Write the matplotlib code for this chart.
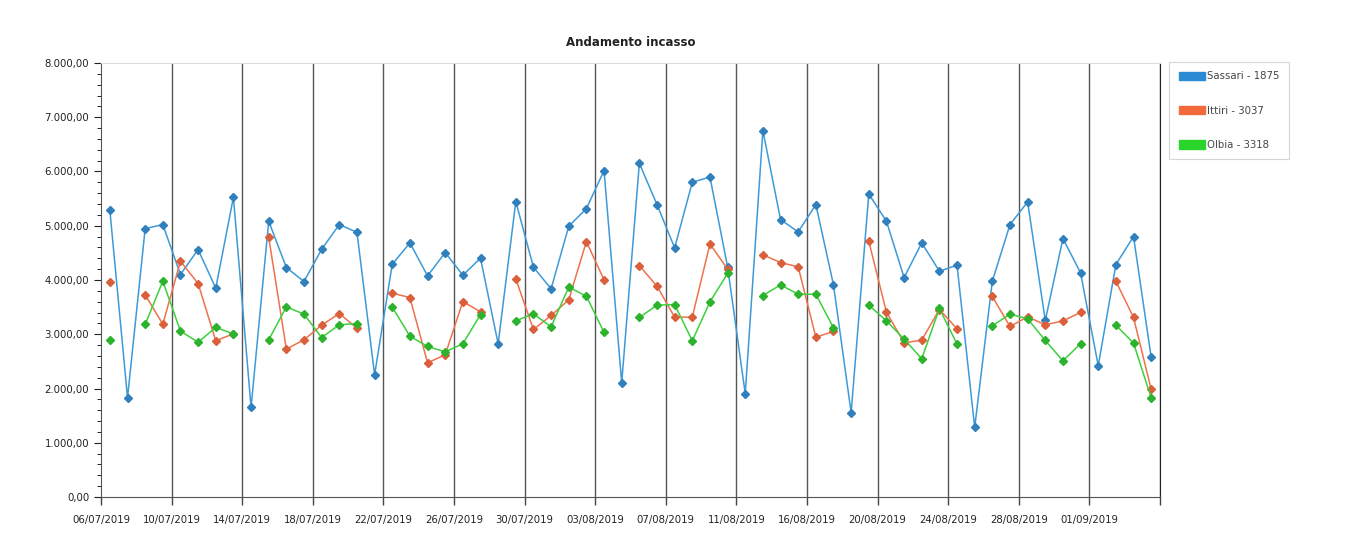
import numpy as np
import pandas as pd
import matplotlib
matplotlib.use("Agg")
import matplotlib.pyplot as plt
from matplotlib.patches import Patch
from matplotlib.ticker import FuncFormatter, MultipleLocator

# giorni lavorati (manca il 15/08)
days = pd.date_range("2019-07-06", "2019-09-04")
days = days[days != pd.Timestamp("2019-08-15")]

sassari = [5285, 1829, 4948, 5021, 4101, 4561, 3849, 5525, 1651, 5083,
           4230, 3972, 4567, 5021, 4880, 2253, 4291, 4684, 4076, 4506,
           4088, 4402, 2824, 5445, 4236, 3837, 4991, 5316, 6016, 2106,
           6151, 5390, 4592, 5801, 5899, 4242, 1903, 6753, 5114, 4886,
           5390, 3910, 1553, 5586, 5083, 4045, 4684, 4162, 4273, 1283,
           3978, 5021, 5439, 3254, 4764, 4131, 2419, 4285, 4801, 2572]
ittiri = [3960, None, 3726, 3186, 4346, 3935, 2879, 3008, None, 4788,
          2726, 2898, 3168, 3382, 3112, None, 3757, 3677, 2474, 2621,
          3603, 3413, None, 4021, 3088, 3346, 3634, 4708, 4002, None,
          4266, 3886, 3315, 3315, 4665, 4200, None, 4463, 4322, 4242,
          2947, 3051, None, 4715, 3407, 2842, 2891, 3456, 3100, None,
          3696, 3143, 3321, 3174, 3247, 3401, None, 3978, 3309, 1983]
olbia = [2891, None, 3180, 3978, 3057, 2855, 3125, 3008, None, 2898,
         3505, 3370, 2940, 3174, 3198, None, 3499, 2965, 2775, 2677,
         2824, 3364, None, 3247, 3376, 3137, 3867, 3702, 3033, None,
         3309, 3536, 3548, 2879, 3597, 4120, None, 3714, 3910, 3738,
         3738, 3119, None, 3536, 3247, 2910, 2548, 3475, 2818, None,
         3155, 3370, 3284, 2885, 2511, 2824, None, 3168, 2836, 1829]

series = [
    ("Sassari - 1875", sassari, "#3d9ad8", "#2f80bd", "#2a8ad4"),
    ("Ittiri - 3037", ittiri, "#f0714c", "#d9603b", "#f26a3c"),
    ("Olbia - 3318", olbia, "#3cd03c", "#2db22d", "#2ad42a"),
]

fig = plt.figure(figsize=(13.71, 5.55), dpi=100)
ax = fig.add_axes([0.0737, 0.1045, 0.7724, 0.782])

x = np.arange(len(days)) + 0.5
for name, vals, lc, mc, pc in series:
    y = np.array([np.nan if v is None else v for v in vals], dtype=float)
    ax.plot(x, y, color=lc, lw=1.1, marker="D", ms=4.2,
            mfc=mc, mec=mc, zorder=3)

ax.set_xlim(0, len(days))
ax.set_ylim(0, 8000)
tick_pos = list(range(0, len(days) + 1, 4))
tick_lab = [days[i].strftime("%d/%m/%Y") if i < len(days) else "" for i in tick_pos]
ax.set_xticks(tick_pos)
ax.set_xticklabels(tick_lab, fontsize=7.3, color="#222222")
for p in tick_pos[1:]:
    ax.axvline(p, color="#555555", lw=1.0, zorder=1)

ax.yaxis.set_major_locator(MultipleLocator(1000))
ax.yaxis.set_minor_locator(MultipleLocator(200))
ax.yaxis.set_major_formatter(FuncFormatter(
    lambda v, p: f"{v:,.2f}".replace(",", "X").replace(".", ",").replace("X", ".")))
ax.tick_params(axis="y", labelsize=7.3, colors="#222222", length=5, width=0.8)
ax.tick_params(axis="y", which="minor", length=3, width=0.6)
ax.tick_params(axis="x", length=6, width=1.0, pad=7, color="#444444")

ax.spines["top"].set_color("#dddddd")
ax.spines["right"].set_color("#222222")
ax.spines["left"].set_color("#555555")
ax.spines["bottom"].set_color("#555555")

fig.text(0.46, 0.918, "Andamento incasso", ha="center", fontsize=8.5,
         fontweight="bold", color="#222222")

handles = [Patch(facecolor=pc, edgecolor=pc, label=name) for name, _, _, _, pc in series]
leg = fig.legend(handles=handles, loc="upper left", bbox_to_anchor=(0.853, 0.888),
                 fontsize=7.3, frameon=True, fancybox=False, labelspacing=2.4,
                 handlelength=2.6, handleheight=0.9, handletextpad=0.2,
                 borderpad=0.9, borderaxespad=0, labelcolor="#444444")
leg.get_frame().set_edgecolor("#cccccc")
leg.get_frame().set_linewidth(0.8)

fig.savefig("out.png", dpi=100)
